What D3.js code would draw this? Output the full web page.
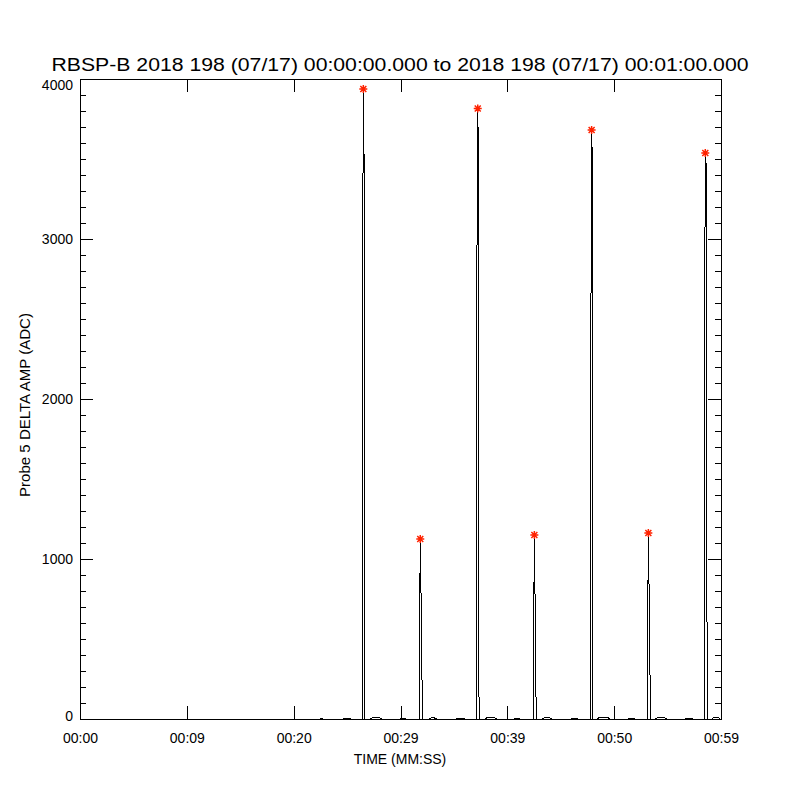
<!DOCTYPE html>
<html>
<head>
<meta charset="utf-8">
<script src="https://cdn.jsdelivr.net/npm/d3@7"></script>
<style>
  body { margin: 0; background: #fff; }
  text { font-family: "Liberation Sans", Arial, sans-serif; fill: #000; }
</style>
</head>
<body>
<div id="chart"></div>
<script>
// Data (time in seconds from 00:00:00, amplitude in ADC)
var times = [
  0, 22.53, 22.60, 22.68, 22.72,
  24.65, 24.70, 25.29, 25.34,
  26.40, 26.43, 26.52, 26.61, 26.64,
  27.21, 27.40, 27.71, 28.05, 28.24,
  29.95, 30.00, 30.47, 30.52,
  31.74, 31.76, 31.85, 31.95, 32.04, 32.06,
  32.70, 32.85, 33.04, 33.20, 33.39,
  35.26, 35.31, 35.99, 36.04,
  37.08, 37.10, 37.23, 37.32, 37.35,
  37.91, 38.10, 38.47, 38.80, 39.01,
  40.63, 40.68, 41.14, 41.19,
  42.41, 42.43, 42.53, 42.61, 42.69, 42.71,
  43.25, 43.40, 43.71, 44.00, 44.18,
  45.96, 46.01, 46.57, 46.62,
  47.78, 47.80, 47.89, 47.98, 48.01,
  48.39, 48.60, 49.00, 49.40, 49.61,
  51.30, 51.35, 51.90, 51.95,
  53.08, 53.10, 53.20, 53.29, 53.38, 53.40,
  53.82, 54.00, 54.38, 54.75, 54.94,
  56.63, 56.68, 57.33, 57.38,
  58.42, 58.44, 58.53, 58.64, 58.70, 58.72,
  59.13, 59.30, 59.53, 59.80, 59.91,
  60
];
var amps = [
  0, 0, 4, 4, 0,
  0, 5, 5, 0,
  0, 2266, 3937, 3370, 0,
  0, 9, 12, 9, 0,
  0, 5, 5, 0,
  0, 270, 1125, 645, 83, 0,
  0, 6, 9, 6, 0,
  0, 5, 5, 0,
  0, 2162, 3816, 3401, 0,
  0, 9, 12, 9, 0,
  0, 5, 5, 0,
  0, 245, 1150, 670, 100, 0,
  0, 6, 9, 6, 0,
  0, 5, 5, 0,
  0, 2054, 3681, 3422, 0,
  0, 9, 12, 9, 0,
  0, 5, 5, 0,
  0, 220, 1162, 698, 114, 0,
  0, 6, 9, 6, 0,
  0, 5, 5, 0,
  0, 1941, 3537, 3433, 69, 0,
  0, 8, 11, 8, 0,
  0
];

// Peaks marked with red asterisks
var peakTimes = [26.52, 31.85, 37.23, 42.53, 47.89, 53.20, 58.53];
var peakAmps = [3937, 1125, 3816, 1150, 3681, 1162, 3537];

// Axis ticks
var xTickVals = [0, 10, 20, 30, 40, 50, 60];
var xTickLabels = ["00:00", "00:09", "00:20", "00:29", "00:39", "00:50", "00:59"];
var yTickVals = [0, 1000, 2000, 3000, 4000];

var titleText = "RBSP-B 2018 198 (07/17) 00:00:00.000 to 2018 198 (07/17) 00:01:00.000";

// Set dimensions
var svgWidth = 800;
var svgHeight = 800;
var margin = { top: 79, right: 79, bottom: 81, left: 80 };
var width = svgWidth - margin.left - margin.right;
var height = svgHeight - margin.top - margin.bottom;

var svg = d3.select("#chart")
  .append("svg")
  .attr("width", svgWidth)
  .attr("height", svgHeight);

var chartGroup = svg.append("g")
  .attr("transform", `translate(${margin.left}, ${margin.top})`);

var xScale = d3.scaleLinear().domain([0, 60]).range([0, width]);
var yScale = d3.scaleLinear().domain([0, 4000]).range([height, 0]);

// title
svg.append("text")
  .attr("x", 400)
  .attr("y", 71)
  .attr("text-anchor", "middle")
  .attr("font-size", 18)
  .attr("textLength", 697)
  .attr("lengthAdjust", "spacingAndGlyphs")
  .text(titleText);

// axes (ticks pointing inward)
function styleAxis(g) {
  g.select(".domain").remove();
  g.selectAll(".tick line").attr("stroke", "#000").attr("shape-rendering", "crispEdges");
  g.selectAll("text").attr("font-family", "Liberation Sans, Arial, sans-serif").attr("font-size", 14).attr("fill", "#000");
}

chartGroup.append("g")
  .attr("transform", `translate(0, ${height})`)
  .call(d3.axisBottom(xScale).tickValues(xTickVals)
    .tickFormat((d, i) => xTickLabels[i])
    .tickSizeInner(-13).tickSizeOuter(0).tickPadding(14))
  .call(styleAxis);

chartGroup.append("g")
  .call(d3.axisTop(xScale).tickValues(xTickVals).tickFormat("")
    .tickSizeInner(-13).tickSizeOuter(0))
  .call(styleAxis);

var leftAxis = chartGroup.append("g")
  .call(d3.axisLeft(yScale).tickValues(yTickVals).tickFormat(d3.format("d"))
    .tickSizeInner(-13).tickSizeOuter(0).tickPadding(7))
  .call(styleAxis);

// end labels sit a little inside the frame, as in the original
leftAxis.selectAll(".tick text")
  .attr("dy", d => d === 4000 ? "0.75em" : d === 0 ? "0.1em" : "0.32em");

chartGroup.append("g")
  .call(d3.axisLeft(yScale).ticks(40).tickFormat("").tickSizeInner(-6).tickSizeOuter(0))
  .call(styleAxis);

chartGroup.append("g")
  .attr("transform", `translate(${width}, 0)`)
  .call(d3.axisRight(yScale).tickValues(yTickVals).tickFormat("")
    .tickSizeInner(-13).tickSizeOuter(0))
  .call(styleAxis);

chartGroup.append("g")
  .attr("transform", `translate(${width}, 0)`)
  .call(d3.axisRight(yScale).ticks(40).tickFormat("").tickSizeInner(-6).tickSizeOuter(0))
  .call(styleAxis);

// frame
chartGroup.append("rect")
  .attr("x", 0.5)
  .attr("y", 0.5)
  .attr("width", width)
  .attr("height", height)
  .attr("fill", "none")
  .attr("stroke", "#000")
  .attr("shape-rendering", "crispEdges");

// data line
var line = d3.line()
  .x((d, i) => xScale(times[i]))
  .y(d => yScale(d));

chartGroup.append("path")
  .datum(amps)
  .attr("d", line)
  .attr("fill", "none")
  .attr("stroke", "#000")
  .attr("stroke-width", 1)
  .attr("shape-rendering", "crispEdges");

// red asterisks at the peaks
var star = "M-4,0L4,0M0,-4L0,4M-3,-3L3,3M-3,3L3,-3";
chartGroup.selectAll(".peak")
  .data(peakAmps)
  .enter()
  .append("path")
  .attr("class", "peak")
  .attr("transform", (d, i) => `translate(${xScale(peakTimes[i])}, ${yScale(d)})`)
  .attr("d", star)
  .attr("fill", "none")
  .attr("stroke", "#ff2200")
  .attr("stroke-width", 1.5);

// axis labels
chartGroup.append("text")
  .attr("transform", `translate(${400 - margin.left}, ${764 - margin.top})`)
  .attr("text-anchor", "middle")
  .attr("font-size", 14)
  .text("TIME (MM:SS)");

svg.append("text")
  .attr("transform", "translate(30, 405) rotate(-90)")
  .attr("text-anchor", "middle")
  .attr("font-size", 14)
  .attr("textLength", 184)
  .attr("lengthAdjust", "spacingAndGlyphs")
  .text("Probe 5 DELTA AMP (ADC)");
</script>
</body>
</html>
